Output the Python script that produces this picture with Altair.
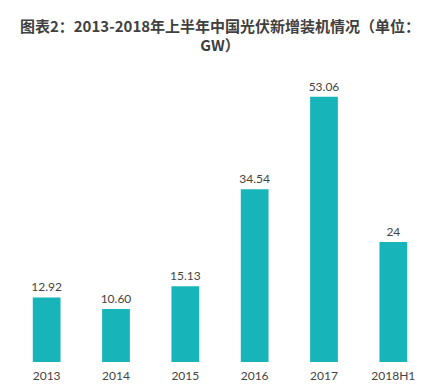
import altair as alt
import pandas as pd

categories = ["2013", "2014", "2015", "2016", "2017", "2018H1"]
values = [12.92, 10.60, 15.13, 34.54, 53.06, 24]
labels = ["12.92", "10.60", "15.13", "34.54", "53.06", "24"]

df = pd.DataFrame({"year": categories, "value": values, "label": labels})

x = alt.X("year:N", sort=categories, title=None,
          scale=alt.Scale(paddingInner=0.6, paddingOuter=0.3),
          axis=alt.Axis(labelAngle=0, domain=False, ticks=False, labelFontSize=12,
                        labelColor="#444444", labelPadding=8, labelFont="Lato"))
y = alt.Y("value:Q", title=None, scale=alt.Scale(domain=[0, 60], nice=False),
          axis=None)

bars = alt.Chart(df).mark_bar(color="#17B4B9").encode(x=x, y=y)
text = alt.Chart(df).mark_text(dy=-10, fontSize=12, color="#444444", font="Lato").encode(
    x=x, y=y, text="label:N")

chart = (bars + text).properties(
    width=416, height=300,
    background="white",
    title=alt.TitleParams(
        text=["图表2：2013-2018年上半年中国光伏新增装机情况（单位：", "GW）"],
        font="Noto Sans CJK SC", fontSize=15, fontWeight="bold", color="#404040",
        anchor="middle", lineHeight=19, offset=8),
    autosize=alt.AutoSizeParams(type="none"),
    padding={"left": 4, "top": 54, "right": 0, "bottom": 24},
).configure_view(stroke=None)

chart.save("out.html", embed_options={"renderer": "svg", "actions": False})
